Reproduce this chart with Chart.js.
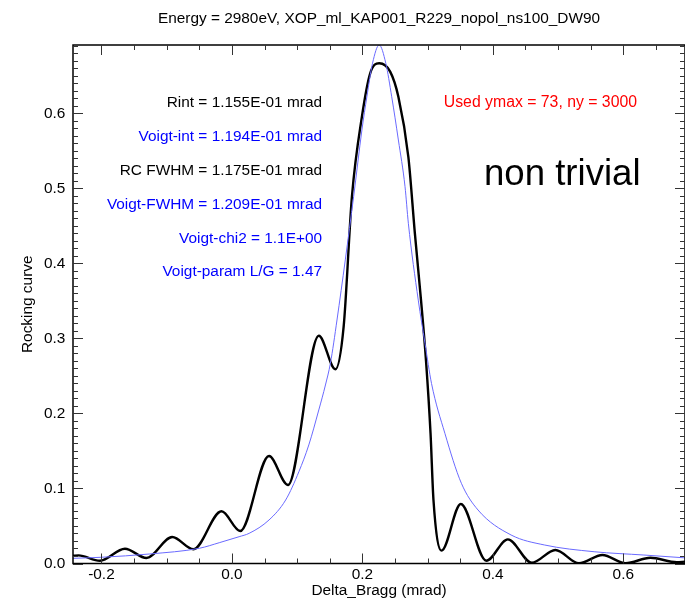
<!DOCTYPE html>
<html>
<head>
<meta charset="utf-8">
<script src="https://cdn.jsdelivr.net/npm/chart.js@4.4.1/dist/chart.umd.min.js"></script>
<style>
  html, body { margin: 0; padding: 0; background: #fff; }
  #wrap { width: 685px; height: 601px; }
</style>
</head>
<body>
<div id="wrap"><canvas id="rcChart" width="685" height="601"></canvas></div>
<script>
// Rocking curve (black) and its Voigt fit (blue), read point by point
const rcX = [-0.2436, -0.235, -0.2024, -0.164, -0.131, -0.0915, -0.059, -0.0159, 0.0127, 0.0569, 0.0859,
    0.1332, 0.1587, 0.1713, 0.184, 0.1993, 0.212, 0.2258, 0.2426, 0.2552, 0.2705, 0.2805, 0.2899,
    0.2975, 0.3045, 0.309, 0.3213, 0.3509, 0.390, 0.423, 0.4597, 0.4958, 0.532, 0.568, 0.6035, 0.6417, 0.682, 0.6946];
const rcY = [0.0104, 0.0108, 0.0037, 0.0197, 0.0073, 0.0353, 0.019, 0.0696, 0.0433, 0.1433, 0.1046,
    0.3036, 0.2588, 0.3156, 0.489, 0.5955, 0.6533, 0.6667, 0.6555, 0.622, 0.542, 0.44, 0.351,
    0.271, 0.1735, 0.0846, 0.0171, 0.0793, 0.0037, 0.0322, 0.001, 0.018, 0.0003, 0.0113, 0.0003, 0.0077, 0.0016, 0.0025];

const voigtX = [-0.2436, -0.2, -0.126, -0.0499, -0.0194, 0.011, 0.0264, 0.0569, 0.0824, 0.1027, 0.1179, 0.1332,
    0.1434, 0.151, 0.1611, 0.1866, 0.1993, 0.2069, 0.2156, 0.2258, 0.2359, 0.245, 0.2552, 0.2654, 0.2705, 0.2857,
    0.296, 0.306, 0.3265, 0.3518, 0.3773, 0.428, 0.479, 0.5553, 0.6316, 0.6946];
const voigtY = [0.0069, 0.0083, 0.0127, 0.0203, 0.0277, 0.0357, 0.0402, 0.058, 0.0846, 0.1224, 0.158, 0.2046,
    0.2379, 0.2668, 0.3245, 0.4889, 0.5778, 0.622, 0.6667, 0.691, 0.6667, 0.622, 0.5644, 0.5022, 0.4534, 0.351,
    0.2935, 0.240, 0.1735, 0.1069, 0.0713, 0.038, 0.0247, 0.0157, 0.0113, 0.0075];

const xRange = [-0.2436, 0.6946];
const yRange = [0, 0.691];

const plotTitle = 'Energy = 2980eV, XOP_ml_KAP001_R229_nopol_ns100_DW90';
const leftNotes = [
    ['Rint = 1.155E-01 mrad', '#000000'],
    ['Voigt-int = 1.194E-01 mrad', '#0000ff'],
    ['RC FWHM = 1.175E-01 mrad', '#000000'],
    ['Voigt-FWHM = 1.209E-01 mrad', '#0000ff'],
    ['Voigt-chi2 = 1.1E+00', '#0000ff'],
    ['Voigt-param L/G = 1.47', '#0000ff']
];
const ymaxNote = 'Used ymax = 73, ny = 3000';
const bigNote = 'non trivial';

const FONT = "'Liberation Sans', Arial, Helvetica, sans-serif";

const toPoints = (xs, ys) => xs.map((x, i) => ({ x: x, y: ys[i] }));

// IDL-style frame: box on all four sides with inward major/minor ticks
const frameTicks = {
    id: 'frameTicks',
    afterDatasetsDraw(chart) {
        const { ctx, chartArea: a, scales: { x, y } } = chart;
        ctx.save();
        ctx.strokeStyle = '#000';
        ctx.lineWidth = 1.5;
        ctx.strokeRect(a.left, a.top, a.right - a.left, a.bottom - a.top);
        ctx.lineWidth = 1;
        ctx.strokeStyle = '#333';
        ctx.beginPath();
        for (let i = Math.ceil(x.min / 0.05); i * 0.05 <= x.max; i++) {
            const px = Math.round(x.getPixelForValue(i * 0.05)) + 0.5;
            const len = i % 4 === 0 ? 10 : 5;
            ctx.moveTo(px, a.bottom); ctx.lineTo(px, a.bottom - len);
            ctx.moveTo(px, a.top); ctx.lineTo(px, a.top + len);
        }
        for (let i = Math.ceil(y.min / 0.01); i * 0.01 <= y.max; i++) {
            const py = Math.round(y.getPixelForValue(i * 0.01)) + 0.5;
            const len = i % 10 === 0 ? 10 : 5;
            ctx.moveTo(a.left, py); ctx.lineTo(a.left + len, py);
            ctx.moveTo(a.right, py); ctx.lineTo(a.right - len, py);
        }
        ctx.stroke();
        ctx.restore();
    }
};

// Title and fit summary text
const notes = {
    id: 'notes',
    afterDraw(chart) {
        const { ctx, chartArea: a } = chart;
        ctx.save();
        ctx.textBaseline = 'alphabetic';
        ctx.font = '15.4px ' + FONT;
        ctx.fillStyle = '#000';
        ctx.textAlign = 'center';
        ctx.fillText(plotTitle, (a.left + a.right) / 2, 22.5);

        ctx.textAlign = 'right';
        leftNotes.forEach(([txt, col], i) => {
            ctx.fillStyle = col;
            ctx.fillText(txt, 322, 106.7 + i * 33.95);
        });
        ctx.fillStyle = '#ff0000';
        ctx.font = '15.8px ' + FONT;
        ctx.fillText(ymaxNote, 637, 106.7);

        ctx.textAlign = 'left';
        ctx.fillStyle = '#000';
        ctx.font = '36.6px ' + FONT;
        ctx.fillText(bigNote, 484, 185);
        ctx.restore();
    }
};

const tickFont = { family: FONT, size: 15.4 };

new Chart(document.getElementById('rcChart'), {
    type: 'line',
    data: {
        datasets: [
            {
                label: 'Voigt fit',
                data: toPoints(voigtX, voigtY),
                borderColor: '#6a6aff',
                borderWidth: 1,
                pointRadius: 0,
                cubicInterpolationMode: 'monotone',
                fill: false
            },
            {
                label: 'Rocking curve',
                data: toPoints(rcX, rcY),
                borderColor: '#000000',
                borderWidth: 2.4,
                pointRadius: 0,
                cubicInterpolationMode: 'monotone',
                fill: false
            }
        ]
    },
    options: {
        responsive: false,
        animation: false,
        events: [],
        layout: { padding: { top: 45, right: -3, left: 0, bottom: 0 } },
        plugins: { legend: { display: false }, tooltip: { enabled: false } },
        scales: {
            x: {
                type: 'linear',
                min: xRange[0],
                max: xRange[1],
                afterFit(s) { s.height = 37.5; },
                grid: { display: false, drawTicks: false },
                border: { display: false },
                ticks: {
                    stepSize: 0.2,
                    includeBounds: false,
                    maxRotation: 0,
                    padding: 2,
                    color: '#000',
                    font: tickFont,
                    callback: v => v.toFixed(1)
                },
                title: {
                    display: true,
                    text: 'Delta_Bragg (mrad)',
                    color: '#000',
                    font: tickFont,
                    padding: { top: 0, bottom: 1 }
                }
            },
            y: {
                type: 'linear',
                min: yRange[0],
                max: yRange[1],
                afterFit(s) { s.width = 73; },
                grid: { display: false, drawTicks: false },
                border: { display: false },
                ticks: {
                    stepSize: 0.1,
                    includeBounds: false,
                    padding: 7.7,
                    color: '#000',
                    font: tickFont,
                    callback: v => v.toFixed(1)
                },
                title: {
                    display: true,
                    text: 'Rocking curve',
                    color: '#000',
                    font: tickFont,
                    padding: { top: 19, bottom: 0 }
                }
            }
        }
    },
    plugins: [frameTicks, notes]
});
</script>
</body>
</html>
